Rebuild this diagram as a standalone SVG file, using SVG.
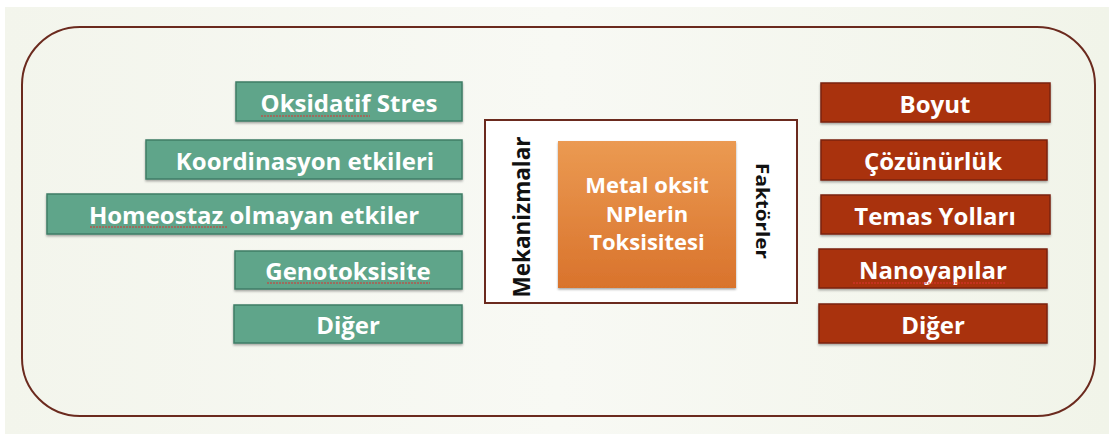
<svg xmlns="http://www.w3.org/2000/svg" width="1109" height="434" viewBox="0 0 1109 434">
<defs>
<linearGradient id="og" x1="0" y1="0" x2="0" y2="1">
<stop offset="0" stop-color="#eb9a52"/>
<stop offset="1" stop-color="#d9732c"/>
</linearGradient>
<linearGradient id="bg" x1="0" y1="0" x2="1" y2="0">
<stop offset="0" stop-color="#f3f5ec"/>
<stop offset="0.5" stop-color="#f8f9f4"/>
<stop offset="1" stop-color="#f1f4e9"/>
</linearGradient>
<filter id="sh" x="-5%" y="-10%" width="110%" height="130%">
<feDropShadow dx="0" dy="1.5" stdDeviation="1" flood-color="#000" flood-opacity="0.35"/>
</filter>
</defs>
<style>
.g{fill:#5fa58a;stroke:#3f7d66;stroke-width:1.5}
.r{fill:#a9310f;stroke:#7b2410;stroke-width:1.5}
.t{font-family:"Open Sans",Lato,sans-serif;font-weight:bold;font-size:24px;fill:#fff;text-anchor:middle}
.c{font-family:"Open Sans",Lato,sans-serif;font-weight:bold;font-size:22px;fill:#fff;text-anchor:middle}
.v{font-family:"Open Sans",Lato,sans-serif;font-weight:bold;font-size:22.5px;fill:#111;text-anchor:middle}
.w{fill:none;stroke:#d33;stroke-width:1;stroke-dasharray:2 1}
</style>
<rect width="1109" height="434" fill="#ffffff"/>
<rect x="5" y="7" width="1104" height="427" fill="url(#bg)"/>
<rect x="22" y="27" width="1073" height="389" rx="58" ry="58" fill="none" stroke="#6b2a1e" stroke-width="2"/>
<g id="connectors"/>
<g id="m1"><rect class="g" x="236" y="82" width="226" height="39" filter="url(#sh)"/><text class="t" x="349" y="112">Oksidatif Stres</text><path class="w" d="M261 116 h109"/></g>
<g id="m2"><rect class="g" x="146" y="140" width="316" height="39" filter="url(#sh)"/><text class="t" x="305" y="170">Koordinasyon etkileri</text></g>
<g id="m3"><rect class="g" x="47" y="194" width="415" height="40" filter="url(#sh)"/><text class="t" x="254" y="224">Homeostaz olmayan etkiler</text><path class="w" d="M90 227 h137"/></g>
<g id="m4"><rect class="g" x="235" y="251" width="227" height="38" filter="url(#sh)"/><text class="t" x="348" y="280">Genotoksisite</text><path class="w" d="M267 283 h163"/></g>
<g id="m5"><rect class="g" x="234" y="305" width="228" height="38" filter="url(#sh)"/><text class="t" x="348" y="334">Diğer</text></g>
<g id="center">
<rect x="485" y="120" width="312" height="183" fill="#ffffff" stroke="#6b2a1e" stroke-width="2"/>
<rect x="558" y="141" width="178" height="147" fill="url(#og)" filter="url(#sh)"/>
<text class="c" x="647" y="193">Metal oksit</text>
<text class="c" x="647" y="222">NPlerin</text>
<text class="c" x="647" y="250">Toksisitesi</text>
<text class="v" transform="translate(530 217) rotate(-90)">Mekanizmalar</text>
<text class="v" style="font-size:18px" textLength="96" lengthAdjust="spacingAndGlyphs" transform="translate(756 211) rotate(90)">Faktörler</text>
</g>
<g id="f1"><rect class="r" x="821" y="83" width="229" height="39" filter="url(#sh)"/><text class="t" x="935" y="113">Boyut</text></g>
<g id="f2"><rect class="r" x="821" y="140" width="226" height="40" filter="url(#sh)"/><text class="t" x="933" y="170">Çözünürlük</text></g>
<g id="f3"><rect class="r" x="821" y="195" width="229" height="39" filter="url(#sh)"/><text class="t" x="935" y="225">Temas Yolları</text></g>
<g id="f4"><rect class="r" x="819" y="249" width="228" height="39" filter="url(#sh)"/><text class="t" x="933" y="279">Nanoyapılar</text><path class="w" d="M853 283 h153"/></g>
<g id="f5"><rect class="r" x="819" y="304" width="228" height="39" filter="url(#sh)"/><text class="t" x="933" y="334">Diğer</text></g>
</svg>
